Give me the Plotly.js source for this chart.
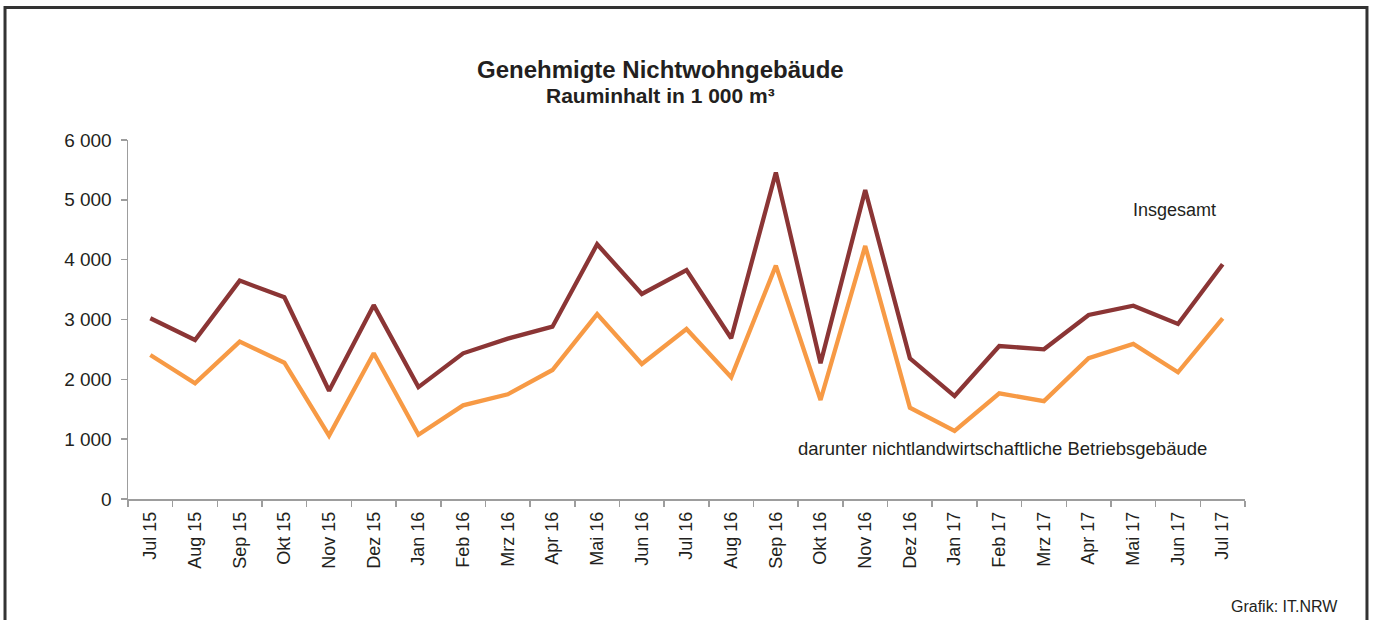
<!DOCTYPE html>
<html>
<head>
<meta charset="utf-8">
<script src="https://cdn.plot.ly/plotly-3.0.1.min.js"></script>
<style>
html,body{margin:0;padding:0;background:#fff;}
#chart{width:1373px;height:620px;}
</style>
</head>
<body>
<div id="chart"></div>
<script>
const months = ["Jul 15","Aug 15","Sep 15","Okt 15","Nov 15","Dez 15","Jan 16","Feb 16","Mrz 16","Apr 16","Mai 16","Jun 16","Jul 16","Aug 16","Sep 16","Okt 16","Nov 16","Dez 16","Jan 17","Feb 17","Mrz 17","Apr 17","Mai 17","Jun 17","Jul 17"];
const insgesamt = [3020, 2657, 3650, 3371, 1810, 3240, 1870, 2435, 2680, 2880, 4257, 3426, 3827, 2686, 5457, 2268, 5165, 2352, 1721, 2557, 2502, 3075, 3231, 2925, 3923];
const betriebsgebaeude = [2407, 1934, 2630, 2278, 1060, 2435, 1075, 1565, 1750, 2156, 3090, 2256, 2841, 2034, 3900, 1655, 4229, 1526, 1137, 1766, 1635, 2355, 2591, 2118, 3020];

const font = '"Liberation Sans", Arial, sans-serif';
const txt = '#231f20';

const traces = [
  {x: months, y: betriebsgebaeude, type: 'scatter', mode: 'lines', name: 'darunter nichtlandwirtschaftliche Betriebsgebäude',
   line: {color: '#f79a45', width: 4.3}},
  {x: months, y: insgesamt, type: 'scatter', mode: 'lines', name: 'Insgesamt',
   line: {color: '#8b3535', width: 4.3}}
];

const layout = {
  width: 1373, height: 620,
  margin: {l: 128, r: 128, t: 140, b: 121},
  paper_bgcolor: '#fff', plot_bgcolor: '#fff',
  showlegend: false,
  separators: ', ',
  font: {family: font, color: txt, size: 18},
  xaxis: {
    type: 'category', range: [-0.5, 24.5], fixedrange: true,
    showgrid: false, zeroline: false,
    showline: true, linecolor: '#9d9d9d', linewidth: 1.5,
    ticks: 'outside', tickson: 'boundaries', ticklen: 6, tickcolor: '#9d9d9d', tickwidth: 1.5,
    ticklabelstandoff: 4,
    tickangle: -90, tickfont: {family: font, size: 18, color: txt}
  },
  yaxis: {
    range: [0, 6000], dtick: 1000, tickformat: ',d', fixedrange: true,
    showgrid: false, zeroline: false,
    showline: true, linecolor: '#9d9d9d', linewidth: 1.5,
    ticks: 'outside', ticklen: 6, tickcolor: '#9d9d9d', tickwidth: 1.5,
    ticklabelstandoff: 5,
    tickfont: {family: font, size: 19, color: txt}
  },
  annotations: [
    {text: '<b>Genehmigte Nichtwohngebäude</b>', xref: 'paper', yref: 'paper', x: 0.4763, y: 1.195,
     xanchor: 'center', yanchor: 'middle', showarrow: false, font: {family: font, size: 24, color: txt}},
    {text: '<b>Rauminhalt in 1 000 m³</b>', xref: 'paper', yref: 'paper', x: 0.4763, y: 1.1226,
     xanchor: 'center', yanchor: 'middle', showarrow: false, font: {family: font, size: 21, color: txt}},
    {text: 'Insgesamt', xref: 'paper', yref: 'paper', x: 0.9373, y: 0.805,
     xanchor: 'center', yanchor: 'middle', showarrow: false, font: {family: font, size: 18, color: txt}},
    {text: 'darunter nichtlandwirtschaftliche Betriebsgebäude', xref: 'paper', yref: 'paper', x: 0.7825, y: 0.142,
     xanchor: 'center', yanchor: 'middle', showarrow: false, font: {family: font, size: 18.5, color: txt}},
    {text: 'Grafik: IT.NRW', xref: 'paper', yref: 'paper', x: 1.085, y: -0.3008,
     xanchor: 'right', yanchor: 'middle', showarrow: false, font: {family: font, size: 16, color: txt}}
  ],
  shapes: [
    {type: 'path', xref: 'paper', yref: 'paper',
     path: 'M -0.1101,-0.45 L -0.1101,1.369 L 1.1092,1.369 L 1.1092,-0.45',
     line: {color: '#333', width: 3}}
  ]
};

Plotly.newPlot('chart', traces, layout, {displayModeBar: false, staticPlot: true});
</script>
</body>
</html>
